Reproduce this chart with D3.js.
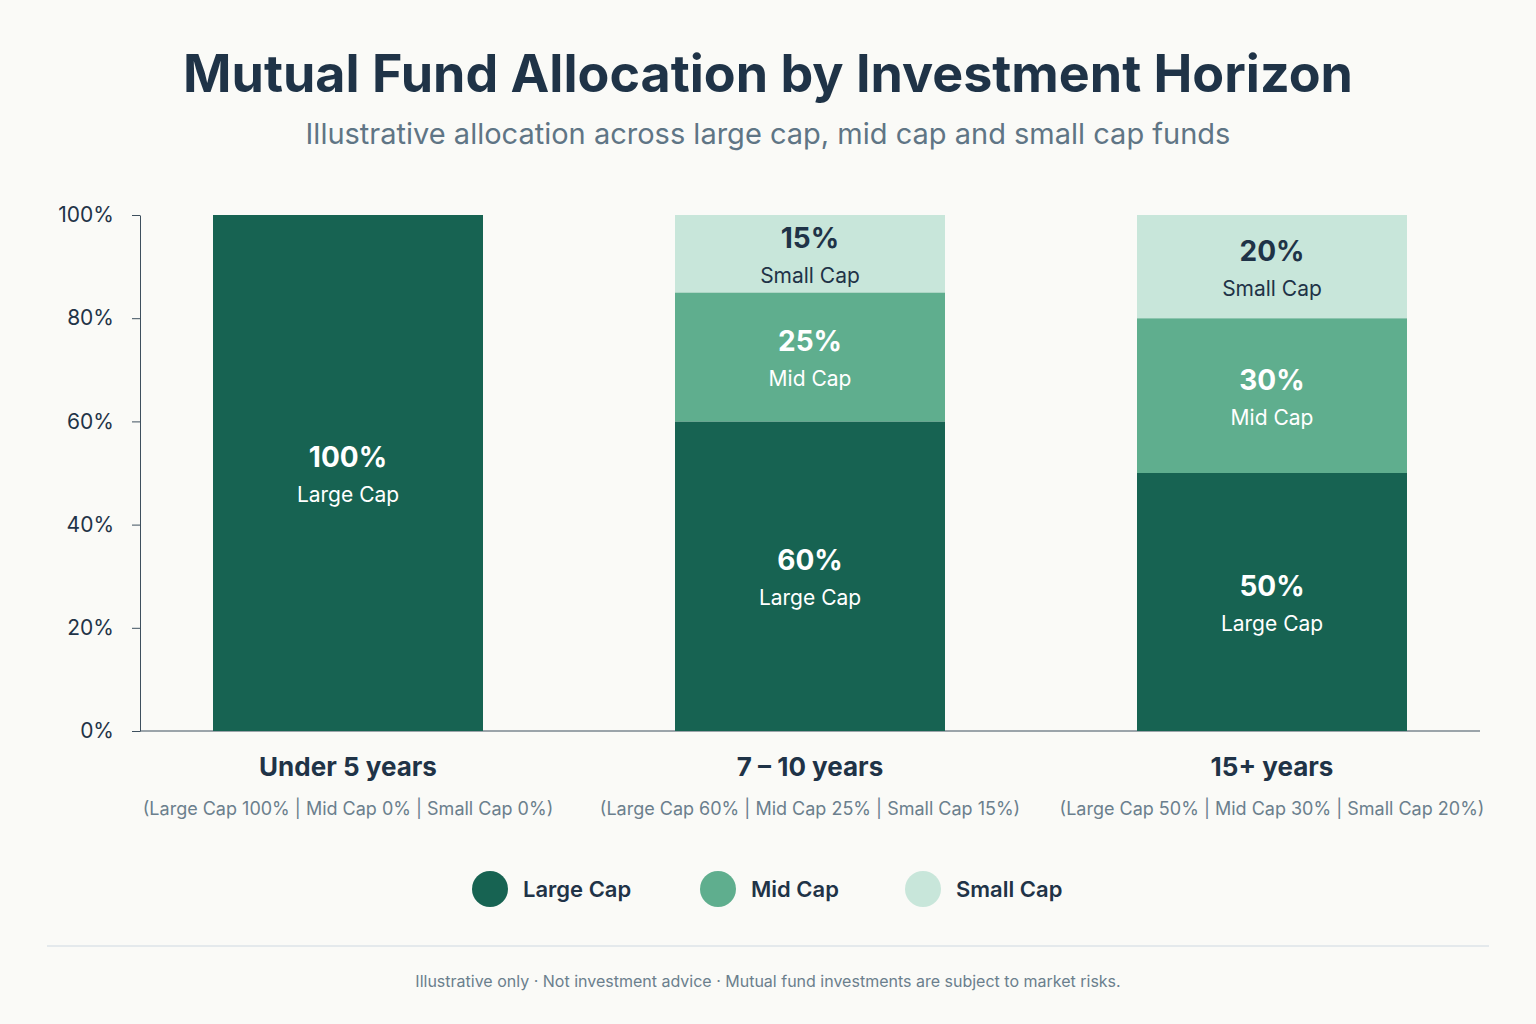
<!DOCTYPE html>
<html><head><meta charset="utf-8">
<script src="https://cdn.jsdelivr.net/npm/d3@7"></script>
<style>body{margin:0;background:#fafaf7;}svg{display:block;font-family:Inter,"Noto Sans",sans-serif;}</style>
</head><body><svg id="c" width="1536" height="1024"></svg>
<script>
const categories = ["Under 5 years", "7 – 10 years", "15+ years"];
const subLabels = ["(Large Cap 100% | Mid Cap 0% | Small Cap 0%)", "(Large Cap 60% | Mid Cap 25% | Small Cap 15%)", "(Large Cap 50% | Mid Cap 30% | Small Cap 20%)"];
const seriesNames = ["Large Cap", "Mid Cap", "Small Cap"];
const largeCap = [100, 60, 50];
const midCap = [0, 25, 30];
const smallCap = [0, 15, 20];
const yTicks = [0, 20, 40, 60, 80, 100];
const colors = ["#176352", "#5fae8e", "#c8e6da"];
const textColors = ["#ffffff", "#ffffff", "#1f3347"];

const svg = d3.select("#c");
svg.append("rect").attr("width",1536).attr("height",1024).attr("fill","#fafaf7");
svg.append("text").attr("x",768).attr("y",92).attr("text-anchor","middle").attr("font-size",52).attr("font-weight",700).attr("fill","#1f3347").text("Mutual Fund Allocation by Investment Horizon");
svg.append("text").attr("x",768).attr("y",144).attr("text-anchor","middle").attr("font-size",29).attr("fill","#5f7585").text("Illustrative allocation across large cap, mid cap and small cap funds");

const y = d3.scaleLinear().domain([0,100]).range([731,215]);
const x = d3.scalePoint().domain(categories).range([348,1272]);
const bw = 270;

const yAxis = svg.append("g").attr("transform","translate(140,0)")
  .call(d3.axisLeft(y).tickValues(yTicks).tickFormat(d=>d+"%").tickSize(8).tickSizeOuter(0));
yAxis.select(".domain").attr("stroke","#3d4f5e");
yAxis.selectAll(".tick line").attr("stroke","#3d4f5e");
yAxis.selectAll("text").attr("font-size",21).attr("fill","#1f3347").attr("x",-26).style("font-family","Inter,sans-serif");
svg.append("line").attr("x1",140).attr("x2",1480).attr("y1",731).attr("y2",731).attr("stroke","#3d4f5e").attr("stroke-width",1.2);

const data = categories.map((c,i)=>({cat:c, Large:largeCap[i], Mid:midCap[i], Small:smallCap[i]}));
const stack = d3.stack().keys(["Large","Mid","Small"])(data);
stack.forEach((layer,li)=>{
  layer.forEach((d,i)=>{
    if(d[1]-d[0]<=0) return;
    const cx = x(categories[i]);
    svg.append("rect").attr("x",cx-bw/2).attr("width",bw).attr("y",y(d[1])).attr("height",y(d[0])-y(d[1])).attr("fill",colors[li]);
    const my = (y(d[0])+y(d[1]))/2;
    svg.append("text").attr("x",cx).attr("y",my-6).attr("text-anchor","middle").attr("font-size",28).attr("font-weight",700).attr("fill",textColors[li]).text((d[1]-d[0])+"%");
    svg.append("text").attr("x",cx).attr("y",my+29).attr("text-anchor","middle").attr("font-size",21).attr("fill",textColors[li]).text(seriesNames[li]);
  });
});
categories.forEach((c,i)=>{
  svg.append("text").attr("x",x(c)).attr("y",776).attr("text-anchor","middle").attr("font-size",26).attr("font-weight",700).attr("fill","#1f3347").text(c);
  svg.append("text").attr("x",x(c)).attr("y",815).attr("text-anchor","middle").attr("font-size",18).attr("fill","#6b7f8d").text(subLabels[i]);
});
const lx = [490, 718, 923];
seriesNames.forEach((n,i)=>{
  svg.append("circle").attr("cx",lx[i]).attr("cy",889).attr("r",18).attr("fill",colors[i]);
  svg.append("text").attr("x",lx[i]+33).attr("y",897).attr("font-size",22).attr("font-weight",600).attr("fill","#1f3347").text(n);
});
svg.append("line").attr("x1",47).attr("x2",1489).attr("y1",946).attr("y2",946).attr("stroke","#dde3e8").attr("stroke-width",1.5);
svg.append("text").attr("x",768).attr("y",987).attr("text-anchor","middle").attr("font-size",16).attr("fill","#6b7f8d").text("Illustrative only  ·  Not investment advice  ·  Mutual fund investments are subject to market risks.");
</script></body></html>
